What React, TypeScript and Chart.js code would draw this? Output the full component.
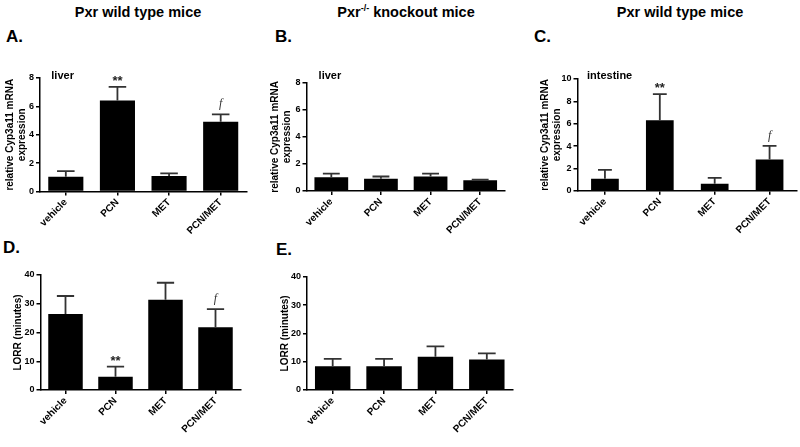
import React, { useEffect, useRef } from 'react';
import { Chart, registerables } from 'chart.js';

Chart.register(...registerables);

const FONT = '"Liberation Sans", Arial, Helvetica, sans-serif';
const SERIF = '"Liberation Serif", "Times New Roman", serif';

// ---------- data ----------
const categories = ['vehicle', 'PCN', 'MET', 'PCN/MET'];

const wtLiverMean = [1.04, 6.42, 1.1, 4.92];
const wtLiverSem = [0.4, 0.96, 0.18, 0.52];

const koLiverMean = [1.01, 0.9, 1.08, 0.79];
const koLiverSem = [0.27, 0.17, 0.2, 0.05];

const wtIntestineMean = [1.07, 6.3, 0.62, 2.8];
const wtIntestineSem = [0.8, 2.35, 0.54, 1.22];

const wtLorrMean = [26.4, 4.6, 31.4, 21.8];
const wtLorrSem = [6.3, 3.5, 5.9, 6.3];

const koLorrMean = [8.4, 8.4, 11.7, 10.8];
const koLorrSem = [2.6, 2.6, 3.7, 2.1];

const sigMarks = ['', '**', '', 'f'];
const noMarks = ['', '', '', ''];

const mrnaAxisTitle = ['relative Cyp3a11 mRNA', 'expression'];
const lorrAxisTitle = 'LORR (minutes)';

const liverMax = 8;
const liverStep = 2;
const intestineMax = 10;
const intestineStep = 2;
const lorrMax = 40;
const lorrStep = 10;

type PanelProps = {
  mean: number[];
  sem: number[];
  marks: string[];
  yMax: number;
  yStep: number;
  yTitle: string | string[];
  titlePad: number;
  barPct: number;
  canvasLeft: number;
  areaLeft: number;
  areaRight: number;
  areaTop: number;
  areaBottom: number;
};

function Panel(p: PanelProps) {
  const ref = useRef<HTMLCanvasElement>(null);
  const padTop = 16;
  const xH = 52;
  const canvasTop = Math.floor(p.areaTop - padTop);
  const canvasHeight = Math.ceil(p.areaBottom + xH - canvasTop);
  const canvasWidth = Math.ceil(p.areaRight + 2 - p.canvasLeft);

  useEffect(() => {
    if (!ref.current) return;
    const errorBars = {
      id: 'errorBars',
      afterDatasetsDraw(chart: any) {
        const ctx = chart.ctx;
        const ys = chart.scales.y;
        const meta = chart.getDatasetMeta(0);
        ctx.save();
        meta.data.forEach((bar: any, i: number) => {
          const top = ys.getPixelForValue(p.mean[i] + p.sem[i]);
          const half = bar.width * 0.25;
          ctx.strokeStyle = '#333333';
          ctx.lineWidth = 1.8;
          ctx.beginPath();
          ctx.moveTo(bar.x, bar.y);
          ctx.lineTo(bar.x, top);
          ctx.moveTo(bar.x - half, top);
          ctx.lineTo(bar.x + half, top);
          ctx.stroke();
          const m = p.marks[i];
          if (m === '**') {
            ctx.fillStyle = '#222222';
            ctx.font = `bold 13px ${FONT}`;
            ctx.textAlign = 'center';
            ctx.textBaseline = 'alphabetic';
            ctx.fillText('**', bar.x, top - 2);
          } else if (m === 'f') {
            ctx.fillStyle = '#333333';
            ctx.font = `italic 12px ${SERIF}`;
            ctx.textAlign = 'center';
            ctx.textBaseline = 'alphabetic';
            ctx.fillText('f', bar.x, top - 7);
          }
        });
        ctx.restore();
      },
    };

    const axisGrid = {
      display: true,
      drawOnChartArea: false,
      drawTicks: true,
      tickLength: 4,
      color: '#000000',
      lineWidth: 1.5,
      offset: false,
    };
    const axisBorder = { display: true, color: '#000000', width: 1.5 };

    const chart = new Chart(ref.current, {
      type: 'bar',
      data: {
        labels: categories,
        datasets: [
          {
            data: p.mean,
            backgroundColor: '#000000',
            borderWidth: 0,
            categoryPercentage: 1,
            barPercentage: p.barPct,
          },
        ],
      },
      options: {
        responsive: false,
        animation: false,
        devicePixelRatio: 1,
        layout: {
          padding: {
            top: p.areaTop - canvasTop,
            right: canvasWidth - (p.areaRight - p.canvasLeft),
            left: 0,
            bottom: 0,
          },
        },
        plugins: {
          legend: { display: false },
          tooltip: { enabled: false },
        },
        scales: {
          x: {
            type: 'category',
            offset: true,
            grid: axisGrid,
            border: axisBorder,
            ticks: {
              color: '#000000',
              font: { family: FONT, size: 10, weight: 'bold' },
              minRotation: 45,
              maxRotation: 45,
              autoSkip: false,
              padding: 1,
            },
            afterFit: (s: any) => {
              s.height = canvasHeight - (p.areaBottom - canvasTop);
            },
          },
          y: {
            min: 0,
            max: p.yMax,
            grid: axisGrid,
            border: axisBorder,
            ticks: {
              stepSize: p.yStep,
              color: '#000000',
              font: { family: FONT, size: 9, weight: 'bold' },
              padding: 2,
            },
            title: {
              display: true,
              text: p.yTitle,
              color: '#000000',
              font: { family: FONT, size: 10, weight: 'bold', lineHeight: 1.2 },
              padding: { top: p.titlePad, bottom: 0 },
            },
            afterFit: (s: any) => {
              s.width = p.areaLeft - p.canvasLeft;
            },
          },
        },
      } as any,
      plugins: [errorBars as any],
    });
    return () => chart.destroy();
  }, []);

  return (
    <canvas
      ref={ref}
      width={canvasWidth}
      height={canvasHeight}
      style={{
        position: 'absolute',
        left: p.canvasLeft,
        top: canvasTop,
        width: canvasWidth,
        height: canvasHeight,
      }}
    />
  );
}

function Txt(props: {
  left: number;
  top: number;
  size: number;
  children: React.ReactNode;
  width?: number;
  center?: boolean;
}) {
  return (
    <div
      style={{
        position: 'absolute',
        left: props.left,
        top: props.top,
        width: props.width,
        textAlign: props.center ? 'center' : 'left',
        fontFamily: FONT,
        fontWeight: 'bold',
        fontSize: props.size,
        lineHeight: 1,
        color: '#000',
        whiteSpace: 'nowrap',
      }}
    >
      {props.children}
    </div>
  );
}

export default function App() {
  return (
    <div
      style={{
        position: 'absolute',
        left: 0,
        top: 0,
        width: 800,
        height: 447,
        background: '#ffffff',
        overflow: 'hidden',
      }}
    >
      {/* column titles */}
      <Txt left={-12} top={5.2} size={14.5} width={300} center>
        Pxr wild type mice
      </Txt>
      <Txt left={256} top={5.2} size={14.5} width={300} center>
        Pxr
        <span style={{ fontSize: 9, position: 'relative', top: -6, lineHeight: 0 }}>-/-</span>
        {' '}knockout mice
      </Txt>
      <Txt left={530} top={5.2} size={14.5} width={300} center>
        Pxr wild type mice
      </Txt>

      {/* panel letters */}
      <Txt left={6} top={27.6} size={17}>A.</Txt>
      <Txt left={275} top={27.6} size={17}>B.</Txt>
      <Txt left={534} top={27.6} size={17}>C.</Txt>
      <Txt left={3} top={238.6} size={17}>D.</Txt>
      <Txt left={276} top={240.6} size={17}>E.</Txt>

      <Panel
        mean={wtLiverMean}
        sem={wtLiverSem}
        marks={sigMarks}
        yMax={liverMax}
        yStep={liverStep}
        yTitle={mrnaAxisTitle}
        titlePad={4}
        barPct={0.68}
        canvasLeft={0}
        areaLeft={40}
        areaRight={246.5}
        areaTop={78}
        areaBottom={191.5}
      />
      <Panel
        mean={koLiverMean}
        sem={koLiverSem}
        marks={noMarks}
        yMax={liverMax}
        yStep={liverStep}
        yTitle={mrnaAxisTitle}
        titlePad={9}
        barPct={0.68}
        canvasLeft={260}
        areaLeft={306.5}
        areaRight={505}
        areaTop={82.7}
        areaBottom={191}
      />
      <Panel
        mean={wtIntestineMean}
        sem={wtIntestineSem}
        marks={sigMarks}
        yMax={intestineMax}
        yStep={intestineStep}
        yTitle={mrnaAxisTitle}
        titlePad={19}
        barPct={0.505}
        canvasLeft={520}
        areaLeft={577.5}
        areaRight={797}
        areaTop={79}
        areaBottom={190.8}
      />
      <Panel
        mean={wtLorrMean}
        sem={wtLorrSem}
        marks={sigMarks}
        yMax={lorrMax}
        yStep={lorrStep}
        yTitle={lorrAxisTitle}
        titlePad={12}
        barPct={0.69}
        canvasLeft={0}
        areaLeft={40.5}
        areaRight={240.5}
        areaTop={275}
        areaBottom={390}
      />
      <Panel
        mean={koLorrMean}
        sem={koLorrSem}
        marks={noMarks}
        yMax={lorrMax}
        yStep={lorrStep}
        yTitle={lorrAxisTitle}
        titlePad={19}
        barPct={0.69}
        canvasLeft={260}
        areaLeft={307}
        areaRight={512.5}
        areaTop={276.7}
        areaBottom={390}
      />

      {/* tissue labels */}
      <Txt left={51.3} top={69.7} size={11}>liver</Txt>
      <Txt left={318.6} top={69.7} size={11}>liver</Txt>
      <Txt left={587} top={69.7} size={11}>intestine</Txt>
    </div>
  );
}
